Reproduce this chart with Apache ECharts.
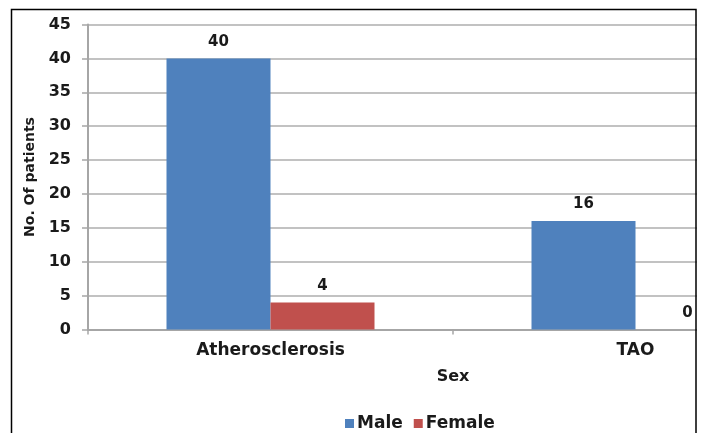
<!DOCTYPE html>
<html>
<head>
<meta charset="utf-8">
<script src="https://cdn.jsdelivr.net/npm/echarts@6/dist/echarts.min.js"></script>
<style>
  html, body { margin: 0; padding: 0; background: #fff; overflow: hidden; }
  #chart { width: 830px; height: 433px; }
</style>
</head>
<body>
<div id="chart"></div>
<script>
// Patients by diagnosis and sex
var categories = ['Atherosclerosis', 'TAO'];
var seriesNames = ['Male', 'Female'];
var maleValues = [40, 16];
var femaleValues = [4, 0];
var yTicks = { min: 0, max: 45, interval: 5 };

var font = 'DejaVu Sans';
var ink = '#1a1a1a';

var chart = echarts.init(document.getElementById('chart'), null, { renderer: 'canvas' });

var labelStyle = {
  show: true,
  position: 'top',
  distance: 9,
  color: ink,
  fontFamily: font,
  fontWeight: 'bold',
  fontSize: 15
};

chart.setOption({
  backgroundColor: '#ffffff',
  animation: false,
  grid: { left: 88, top: 24.5, right: 12, height: 305, containLabel: false },
  legend: {
    data: seriesNames,
    left: 340,
    top: 410,
    icon: 'rect',
    itemWidth: 9,
    itemHeight: 9,
    itemGap: 11,
    textStyle: { color: ink, fontFamily: font, fontWeight: 'bold', fontSize: 17, padding: [0, 0, 0, -2] }
  },
  xAxis: {
    type: 'category',
    data: categories,
    name: 'Sex',
    nameLocation: 'middle',
    nameGap: 39,
    nameTextStyle: { color: ink, fontFamily: font, fontWeight: 'bold', fontSize: 16 },
    axisLine: { lineStyle: { color: '#a6a6a6', width: 2 } },
    axisTick: { show: true, length: 5, alignWithLabel: false, lineStyle: { color: '#a6a6a6', width: 1.5 } },
    axisLabel: { color: ink, fontFamily: font, fontWeight: 'bold', fontSize: 17, margin: 13 }
  },
  yAxis: {
    type: 'value',
    min: yTicks.min,
    max: yTicks.max,
    interval: yTicks.interval,
    name: 'No. Of patients',
    nameLocation: 'middle',
    nameGap: 48,
    nameTextStyle: { color: ink, fontFamily: font, fontWeight: 'bold', fontSize: 14 },
    axisLine: { show: true, lineStyle: { color: '#a6a6a6', width: 2 } },
    axisTick: { show: true, length: 6, lineStyle: { color: '#a6a6a6', width: 1.5 } },
    axisLabel: { color: ink, fontFamily: font, fontWeight: 'bold', fontSize: 16, margin: 17 },
    splitLine: { show: true, lineStyle: { color: '#c2c2c2', width: 2 } }
  },
  series: [
    {
      name: seriesNames[0],
      type: 'bar',
      data: maleValues,
      barWidth: 104,
      barGap: '0%',
      itemStyle: { color: '#4f81bd' },
      label: labelStyle
    },
    {
      name: seriesNames[1],
      type: 'bar',
      data: femaleValues,
      barWidth: 104,
      barGap: '0%',
      itemStyle: { color: '#c0504d' },
      label: labelStyle
    }
  ],
  graphic: [
    {
      type: 'rect',
      z: 100,
      shape: { x: 697, y: 0, width: 140, height: 433 },
      style: { fill: '#ffffff' }
    },
    {
      type: 'rect',
      z: 101,
      shape: { x: 11.5, y: 9.5, width: 684.5, height: 440 },
      style: { fill: 'none', stroke: '#000000', lineWidth: 1.5 }
    }
  ]
});
</script>
</body>
</html>
